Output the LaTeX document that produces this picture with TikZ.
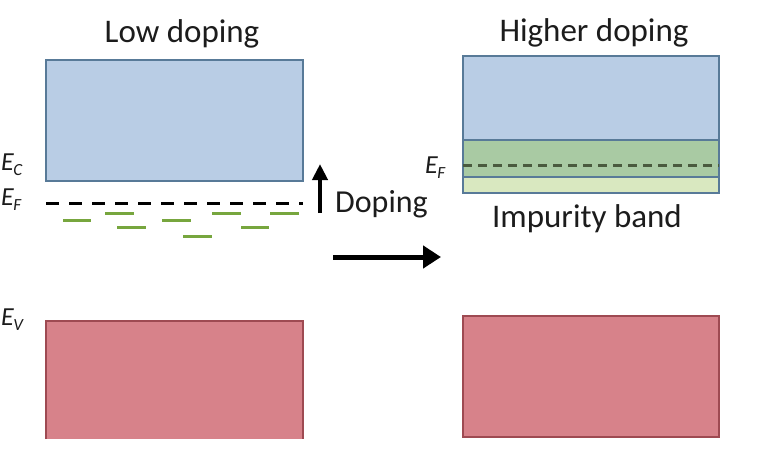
\documentclass[tikz,border=0pt]{standalone}
\usepackage{fontspec}
\setmainfont{Carlito}
\usetikzlibrary{arrows.meta}
\definecolor{cbfill}{HTML}{B9CDE5}
\definecolor{cbline}{HTML}{587A98}
\definecolor{vbfill}{HTML}{D7828A}
\definecolor{vbline}{HTML}{9E4A52}
\definecolor{ibfill}{HTML}{A9CAA3}
\definecolor{iblight}{HTML}{D9E8C0}
\definecolor{gdash}{HTML}{77A63E}
\definecolor{fdash}{HTML}{4A5A3E}
\definecolor{txt}{HTML}{1C1C1C}
\newcommand{\elab}[1]{{\fontsize{26}{26}\selectfont\itshape E\kern-0.5pt\raisebox{-5pt}{\fontsize{17}{17}\selectfont #1}}}
\tikzset{
  title/.style={anchor=base, inner sep=0pt, text=txt, font=\fontsize{33}{33}\selectfont},
  elabel/.style={anchor=base west, inner sep=0pt, text=txt},
  cband/.style={fill=cbfill, draw=cbline, line width=1.5pt},
  vband/.style={fill=vbfill, draw=vbline, line width=1.5pt},
  donor/.style={draw=gdash, line width=3pt},
  bigarrow/.style={draw=black, -{Triangle[length=18pt,width=22pt]}},
}
\begin{document}
\begin{tikzpicture}[x=1pt,y=-1pt]
\useasboundingbox[fill=white] (0,0) rectangle (760,461);
% titles
\node[title] (tl) at (182,42) {Low doping};
\node[title] (tr) at (594,41) {Higher doping};
\node[title] (ib) at (587,227) {Impurity band};
\node[title, anchor=base west, font=\fontsize{32}{32}\selectfont] (dop) at (335,212) {Doping};
% left bands
\draw[cband] (46,60) rectangle (303,181);
\fill[vbfill] (46,321) rectangle (303,439);
\draw[vbline, line width=1.5pt] (46,439) -- (46,321) -- (303,321) -- (303,439);
% left fermi level
\draw[black, line width=3pt, dash pattern=on 13pt off 10pt] (46,203) -- (303,203);
% donor levels
\draw[donor] (63,220) -- (91,220);
\draw[donor] (105,213) -- (134,213);
\draw[donor] (117,227) -- (146,227);
\draw[donor] (162,220) -- (191,220);
\draw[donor] (183,236) -- (212,236);
\draw[donor] (212,213) -- (241,213);
\draw[donor] (241,227) -- (269,227);
\draw[donor] (270,213) -- (299,213);
% labels
\node[elabel] (ec) at (1,170) {\elab{C}};
\node[elabel] (ef) at (1,205) {\elab{F}};
\node[elabel] (ev) at (1,325) {\elab{V}};
\node[elabel] (ef2) at (425,173) {\elab{F}};
% arrows
\coordinate (ua) at (320,213);
\coordinate (ub) at (320,164);
\draw[bigarrow, line width=4pt, -{Triangle[length=16pt,width=15pt]}] (ua) -- (ub);
\coordinate (ha) at (333,257);
\coordinate (hb) at (441,257);
\draw[bigarrow, line width=5pt] (ha) -- (hb);
% right bands
\draw[cband] (463,56) rectangle (719,140);
\fill[iblight] (463,177) rectangle (719,193);
\fill[ibfill] (463,140) rectangle (719,177);
\draw[cbline, line width=1.5pt] (463,140) rectangle (719,193);
\draw[cbline, line width=1.2pt] (463,177) -- (719,177);
\draw[fdash, line width=3pt, dash pattern=on 9pt off 6pt] (463,165) -- (719,165);
\draw[vband] (463,316) rectangle (719,437);
\end{tikzpicture}
\end{document}
